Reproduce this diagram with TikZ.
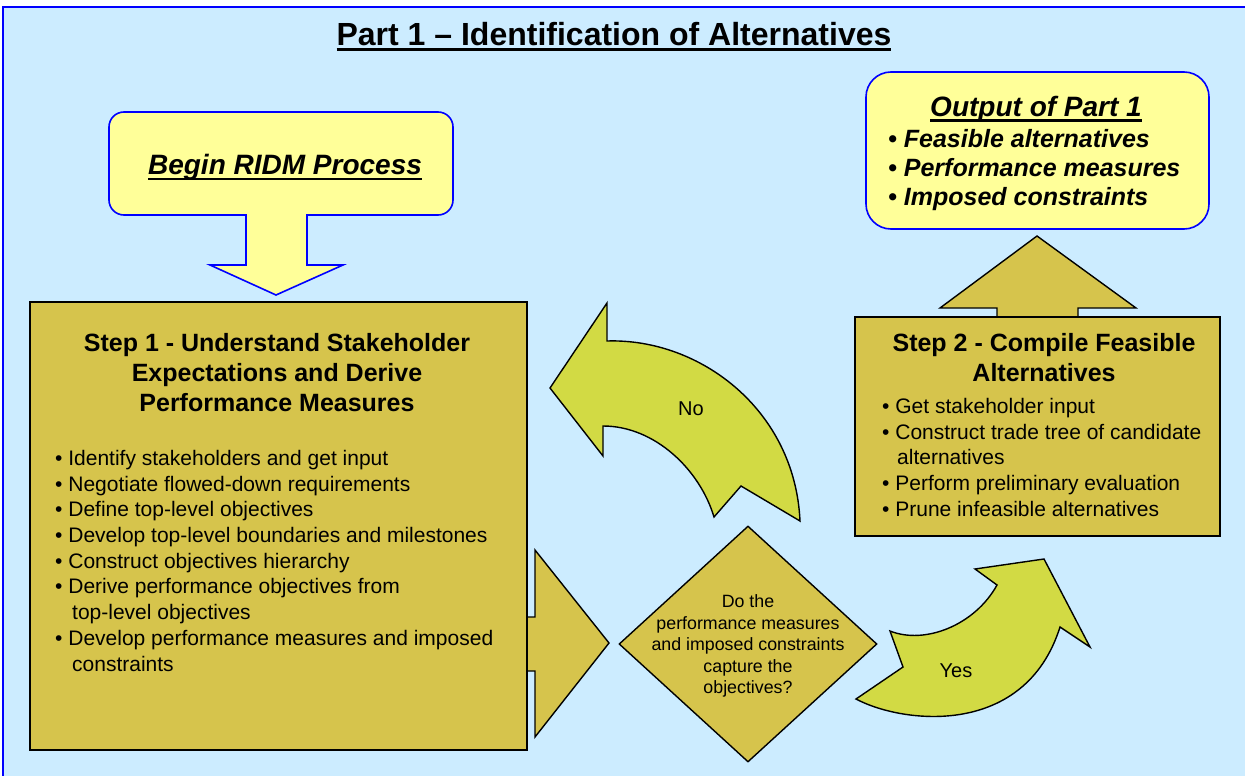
\documentclass[tikz,border=0pt]{standalone}
\usepackage{fontspec}
\setmainfont{Liberation Sans}
\usetikzlibrary{shapes.geometric}

\definecolor{skyback}{RGB}{204,236,255}
\definecolor{paleyellow}{RGB}{255,255,153}
\definecolor{stepgold}{RGB}{214,196,76}
\definecolor{turnlime}{RGB}{210,218,68}
\definecolor{edgeblue}{RGB}{0,0,255}

% thick underline: depth, thickness, text
\newcommand{\ulbar}[3]{\setbox0=\hbox{#3}\rlap{\rule[-#1]{\wd0}{#2}}\box0}

\begin{document}
\begin{tikzpicture}[
  x=1pt, y=-1pt,
  stepbox/.style={draw=black, line width=1.6pt, fill=stepgold, inner sep=0pt},
  outbox/.style={draw=edgeblue, line width=1.6pt, fill=paleyellow, rounded corners=25pt, inner sep=0pt},
  callout/.style={draw=edgeblue, line width=1.6pt, fill=paleyellow},
  blockarrow/.style={draw=black, line width=1.4pt, fill=stepgold},
  bendarrow/.style={draw=black, line width=1.4pt, fill=turnlime},
  decision/.style={diamond, draw=black, line width=1.4pt, fill=stepgold, minimum width=258pt, minimum height=236pt, inner sep=0pt},
  pagetitle/.style={font=\fontsize{32}{38}\selectfont\bfseries, inner sep=0pt, anchor=base},
  calloutext/.style={font=\fontsize{28}{34}\selectfont\bfseries\itshape, inner sep=0pt, anchor=base},
  steptitle/.style={font=\fontsize{25}{30}\selectfont\bfseries, align=center, inner sep=0pt},
  steplist/.style={font=\fontsize{21}{25.7}\selectfont, align=left, inner sep=0pt, anchor=north west},
  outlist/.style={font=\fontsize{25}{29}\selectfont\bfseries\itshape, align=left, inner sep=0pt, anchor=north west},
  asktext/.style={font=\fontsize{17.8}{21.5}\selectfont, align=center, inner sep=0pt},
  turnlabel/.style={font=\fontsize{20}{24}\selectfont, inner sep=0pt, anchor=base}
]
\useasboundingbox (0,0) rectangle (1245,776);

% ----- BACKGROUND -----
\fill[skyback] (3,7) rectangle (1245,776);
\draw[edgeblue, line width=1.6pt] (3,776) -- (3,7) -- (1245,7);

% ----- TITLE -----
\node[pagetitle] (title) at (614,45.5) {\ulbar{6pt}{3pt}{Part 1 – Identification of Alternatives}};

% ----- BEGIN CALLOUT -----
\draw[callout] (307,215) -- (307,265) -- (343,265) -- (276,295) -- (210,265) -- (246,265) -- (246,215)
  [rounded corners=15pt] -- (109,215) -- (109,112) -- (453,112) -- (453,215) [sharp corners] -- cycle;
\node[calloutext] (begin) at (285,174) {\ulbar{6pt}{2.5pt}{Begin RIDM Process}};

% ----- STEP 1 -----
\draw[blockarrow] (515,617) -- (535,617) -- (535,550) -- (609,643) -- (535,737) -- (535,671) -- (515,671) -- cycle;
\node[stepbox, minimum width=497pt, minimum height=448pt] (step1) at (278.5,526) {};
\node[steptitle] (step1title) at (277,373) {Step 1 - Understand Stakeholder\\Expectations and Derive\\Performance Measures};
\node[steplist] (step1list) at (55,450) {%
  \textbullet\ Identify stakeholders and get input\\
  \textbullet\ Negotiate flowed-down requirements\\
  \textbullet\ Define top-level objectives\\
  \textbullet\ Develop top-level boundaries and milestones\\
  \textbullet\ Construct objectives hierarchy\\
  \textbullet\ Derive performance objectives from\\
  \hspace*{17pt}top-level objectives\\
  \textbullet\ Develop performance measures and imposed\\
  \hspace*{17pt}constraints};

% ----- DECISION -----
\node[decision] (ask) at (748,644) {};
\node[asktext] (asktxt) at (748,646) {Do the\\performance measures\\and imposed constraints\\capture the\\objectives?};

% ----- NO / YES TURNS -----
\draw[bendarrow] (550,388) -- (607,303) -- (607,341) .. controls (700,338) and (795,410) .. (800,521)
  -- (741,486) -- (714,517) .. controls (700,470) and (655,426) .. (603,426) -- (603,456) -- cycle;
\node[turnlabel] (no) at (691,415) {No};
\draw[bendarrow] (890,631) .. controls (925,645) and (975,625) .. (997,585) -- (975,569) -- (1044,559)
  -- (1090,647) -- (1060,627) .. controls (1025,738) and (903,724) .. (856,699) -- (903,667) -- cycle;
\node[turnlabel] (yes) at (956,677) {Yes};

% ----- STEP 2 -----
\draw[blockarrow] (997,330) -- (997,308) -- (940,308) -- (1037,236) -- (1136,308) -- (1078,308) -- (1078,330) -- cycle;
\node[stepbox, minimum width=365pt, minimum height=219pt] (step2) at (1037.5,426.5) {};
\node[steptitle] (step2title) at (1044,358) {Step 2 - Compile Feasible\\Alternatives};
\node[steplist] (step2list) at (882,398) {%
  \textbullet\ Get stakeholder input\\
  \textbullet\ Construct trade tree of candidate\\
  \hspace*{15pt}alternatives\\
  \textbullet\ Perform preliminary evaluation\\
  \textbullet\ Prune infeasible alternatives};

% ----- OUTPUT -----
\node[outbox, minimum width=343pt, minimum height=157pt] (output) at (1037.5,150.5) {};
\node[calloutext] (outhead) at (1036,116.5) {\ulbar{5pt}{2.5pt}{Output of Part 1}};
\node[outlist] (outlist) at (888,129) {%
  \textbullet\ Feasible alternatives\\
  \textbullet\ Performance measures\\
  \textbullet\ Imposed constraints};

\end{tikzpicture}
\end{document}
